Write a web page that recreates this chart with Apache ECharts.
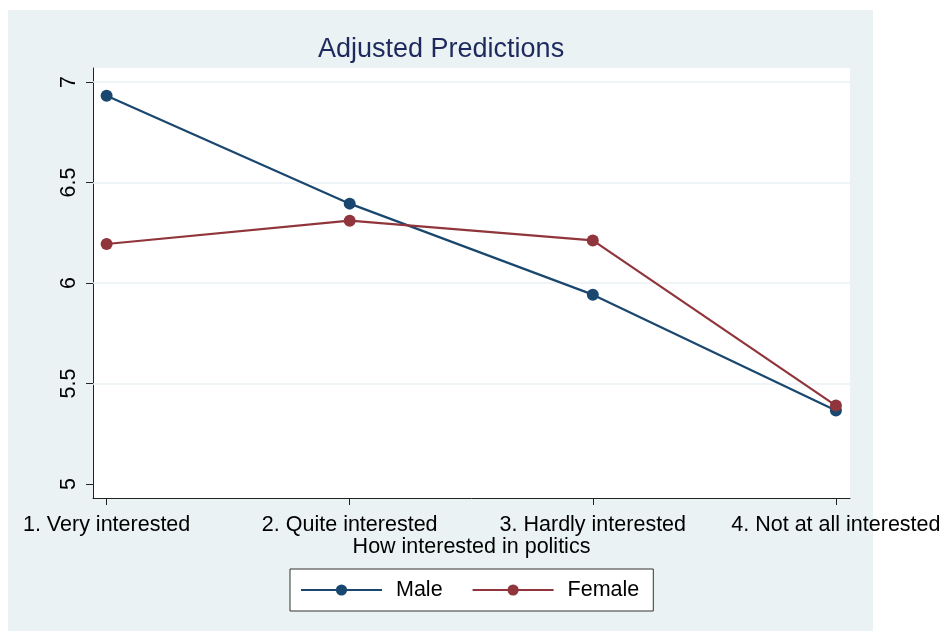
<!DOCTYPE html>
<html>
<head>
<meta charset="utf-8">
<script src="https://cdn.jsdelivr.net/npm/echarts@6/dist/echarts.min.js"></script>
<style>
  html, body { margin: 0; padding: 0; background: #ffffff; }
  #chart { width: 944px; height: 631px; }
</style>
</head>
<body>
<div id="chart"></div>
<script>
// Predicted outcome by political interest, split by sex
const categories = ['1. Very interested', '2. Quite interested', '3. Hardly interested', '4. Not at all interested'];
const maleValues = [6.932, 6.395, 5.942, 5.366];
const femaleValues = [6.194, 6.310, 6.212, 5.390];
const yTicks = [5, 5.5, 6, 6.5, 7];
const gridValues = [5.5, 6, 6.5, 7];

const FONT = '"Liberation Sans", Arial, sans-serif';
const NAVY = '#1A476F';
const MAROON = '#90353B';
const REGION = '#EAF2F3';

const toPairs = vals => vals.map((v, i) => [i, v]);

const lineSeries = (name, color, vals) => ({
  name: name,
  type: 'line',
  data: toPairs(vals),
  symbol: 'circle',
  symbolSize: 12,
  z: 3,
  lineStyle: { color: color, width: 2.2 },
  itemStyle: { color: color },
  emphasis: { disabled: true },
  animation: false
});

const chart = echarts.init(document.getElementById('chart'), null, { renderer: 'canvas' });

chart.setOption({
  animation: false,
  backgroundColor: '#ffffff',
  textStyle: { fontFamily: FONT },
  graphic: [{
    type: 'rect',
    z: -10,
    silent: true,
    shape: { x: 8, y: 10, width: 865, height: 621 },
    style: { fill: REGION }
  }],
  title: {
    text: 'Adjusted Predictions',
    left: 318,
    top: 36,
    padding: 0,
    textStyle: { fontFamily: FONT, fontSize: 27, fontWeight: 'normal', color: '#1E2A5E' }
  },
  grid: {
    left: 93,
    right: 94,
    top: 68,
    bottom: 133,
    show: true,
    backgroundColor: '#ffffff',
    borderWidth: 0
  },
  legend: {
    data: ['Male', 'Female'],
    left: 290,
    top: 569,
    padding: [10, 14, 10, 10],
    itemGap: 29,
    itemWidth: 81,
    itemHeight: 14,
    backgroundColor: '#ffffff',
    borderColor: '#333333',
    borderWidth: 1,
    borderRadius: 0,
    selectedMode: false,
    textStyle: { fontFamily: FONT, fontSize: 21.5, color: '#000000', padding: [0, 0, 0, 9] }
  },
  xAxis: {
    type: 'value',
    min: -0.056,
    max: 3.058,
    name: 'How interested in politics',
    nameLocation: 'middle',
    nameGap: 38,
    nameMoveOverlap: false,
    nameTextStyle: { fontFamily: FONT, fontSize: 21.5, color: '#000000' },
    axisLine: { show: true, onZero: false, lineStyle: { color: '#222222', width: 1 } },
    axisTick: { show: true, length: 7, customValues: [0, 1, 2, 3], lineStyle: { color: '#222222' } },
    axisLabel: {
      customValues: [0, 1, 2, 3],
      formatter: v => categories[Math.round(v)],
      margin: 16,
      fontFamily: FONT,
      fontSize: 21.5,
      color: '#000000',
      hideOverlap: false
    },
    splitLine: { show: false }
  },
  yAxis: {
    type: 'value',
    min: 4.93,
    max: 7.07,
    axisLine: { show: true, onZero: false, lineStyle: { color: '#222222', width: 1 } },
    axisTick: { show: true, length: 7, customValues: yTicks, lineStyle: { color: '#222222' } },
    axisLabel: {
      customValues: yTicks,
      rotate: 90,
      margin: 13,
      fontFamily: FONT,
      fontSize: 21.5,
      color: '#000000'
    },
    splitLine: { show: false }
  },
  series: [
    {
      // horizontal gridlines behind the data
      name: 'grid',
      type: 'line',
      data: [],
      z: 1,
      silent: true,
      markLine: {
        z: 1,
        silent: true,
        symbol: 'none',
        label: { show: false },
        lineStyle: { color: REGION, width: 1.6, type: 'solid' },
        emphasis: { disabled: true },
        data: gridValues.map(v => ({ yAxis: v }))
      }
    },
    lineSeries('Male', NAVY, maleValues),
    lineSeries('Female', MAROON, femaleValues)
  ]
});
</script>
</body>
</html>
